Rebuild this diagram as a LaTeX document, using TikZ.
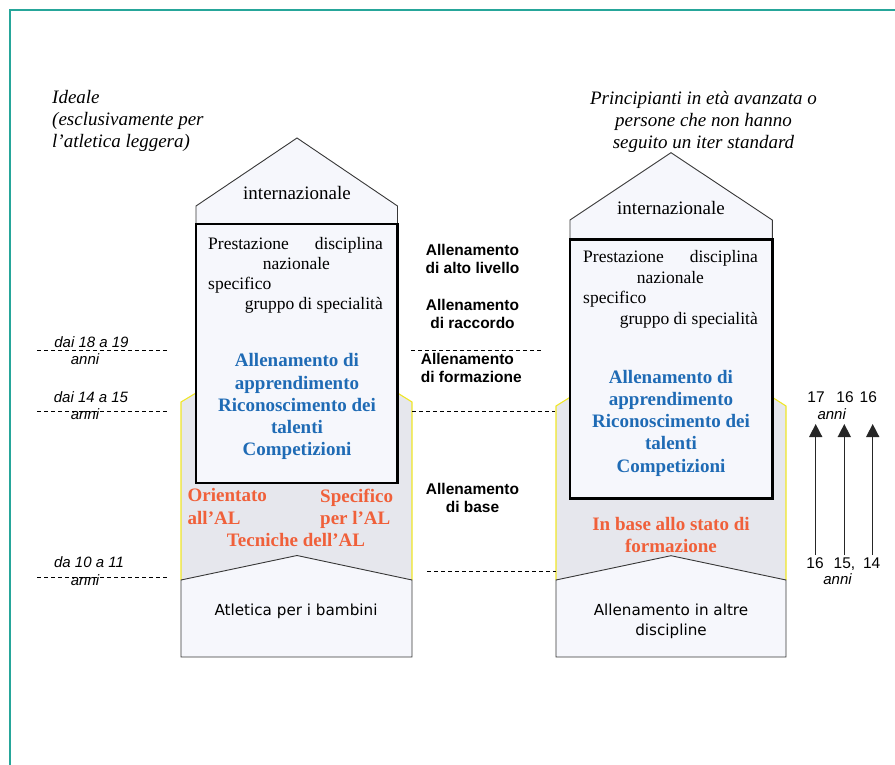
\documentclass[tikz,border=0pt]{standalone}
\usepackage{fontspec}
\setmainfont{Liberation Serif}
\setsansfont{Liberation Sans}
\newfontfamily\plainsans{DejaVu Sans}
\usetikzlibrary{arrows.meta}

\definecolor{frameteal}{RGB}{38,166,154}
\definecolor{stagefill}{RGB}{246,247,252}
\definecolor{basegray}{RGB}{230,231,237}
\definecolor{edgeyellow}{RGB}{240,230,40}
\definecolor{edgegray}{RGB}{55,55,55}
\definecolor{stageblue}{RGB}{31,107,181}
\definecolor{stageorange}{RGB}{240,96,58}

\begin{document}
\begin{tikzpicture}[
  roofline/.style={draw=edgegray, line width=\stageEdgeWidth, fill=stagefill},
  stagebox/.style={draw=black, line width=\stageBoxWidth, fill=stagefill},
  agedash/.style={dash pattern=on 4pt off 3pt, line width=0.8pt},
  titlenote/.style={inner sep=0pt, font=\itshape\fontsize{19}{22}\selectfont},
  roofnote/.style={inner sep=0pt, font=\fontsize{19}{22}\selectfont},
  levelnote/.style={inner sep=0pt, font=\fontsize{17.5}{21}\selectfont},
  bluenote/.style={inner sep=0pt, align=center, text=stageblue, font=\bfseries\fontsize{19}{22.2}\selectfont},
  orangenote/.style={inner sep=0pt, text=stageorange, font=\bfseries\fontsize{19}{22.5}\selectfont},
  phasenote/.style={inner sep=0pt, font=\sffamily\bfseries\fontsize{15.5}{18}\selectfont},
  agenote/.style={inner sep=0pt, font=\sffamily\itshape\fontsize{15}{17}\selectfont},
  yearnote/.style={inner sep=0pt, font=\sffamily\fontsize{15.5}{17}\selectfont},
  basenote/.style={inner sep=0pt, align=center, font=\plainsans\fontsize{15.2}{20}\selectfont},
  yeararrow/.style={draw=black!85, line width=1.5pt, -{Triangle[width=13pt,length=13pt]}}
]
% Stage model, coordinates in px (y downwards)
\def\px{1pt}
\providecommand{\stageEdgeWidth}{0.9pt}
\providecommand{\stageBoxWidth}{2.4pt}
\providecommand{\yellowEdgeWidth}{1.1pt}
\begin{scope}[x=\px, y=-\px, line join=miter]
  \useasboundingbox (0,0) rectangle (895,765);
  % Frame
  \draw[frameteal, line width=1.5pt] (10,765) -- (10,10) -- (895,10);

  % Left column: grey base area with yellow sides
  \fill[basegray] (196,393) -- (181,402) -- (181,580) -- (412,580) -- (412,402) -- (397.5,393) -- cycle;
  \draw[edgeyellow, line width=\yellowEdgeWidth] (196,393) -- (181,402) -- (181,580);
  \draw[edgeyellow, line width=\yellowEdgeWidth] (397.5,393) -- (412,402) -- (412,580);
  % Left column: roof, stage box, bottom block
  \path[roofline] (196,226) -- (196,206) -- (297,138) -- (397.5,206) -- (397.5,226);
  \draw[stagebox] (196,224) rectangle (397.5,483);
  \path[roofline] (181,657) -- (181,580) -- (297,555.5) -- (412,580) -- (412,657) -- cycle;

  % Right column: grey base area with yellow sides
  \fill[basegray] (570,397.3) -- (556,406) -- (556,580) -- (786,580) -- (786,406) -- (772.3,397.3) -- cycle;
  \draw[edgeyellow, line width=\yellowEdgeWidth] (570,397.3) -- (556,406) -- (556,580);
  \draw[edgeyellow, line width=\yellowEdgeWidth] (772.3,397.3) -- (786,406) -- (786,580);
  % Right column: roof, stage box, bottom block
  \path[roofline] (570,241) -- (570,220) -- (671,152.7) -- (772.3,220) -- (772.3,241);
  \draw[stagebox] (570,239.3) rectangle (772.3,498.3);
  \path[roofline] (556,657) -- (556,580) -- (671,555.7) -- (786,580) -- (786,657) -- cycle;

  % Age limits
  \draw[agedash] (37,350.7) -- (167,350.7);
  \draw[agedash] (37,411.7) -- (167,411.7);
  \draw[agedash] (37,577.7) -- (167,577.7);
  % Phase limits
  \draw[agedash] (411,350) -- (541.7,350);
  \draw[agedash] (412,411.7) -- (555,411.7);
  \draw[agedash] (427,571) -- (556,571);

  % Titles
  \node[titlenote, anchor=north west, align=left] (idealTitle) at (52,90.5)
    {Ideale\\(esclusivamente per\\l’atletica leggera)};
  \node[titlenote, anchor=north, align=center] (lateTitle) at (703.5,91.5)
    {Principianti in età avanzata o\\persone che non hanno\\seguito un iter standard};

  % Left column texts
  \node[roofnote, anchor=base] (leftIntl) at (297,199.8) {internazionale};
  \node[levelnote, anchor=base west] (leftPrest) at (208,249) {Prestazione};
  \node[levelnote, anchor=base east] (leftDisc) at (383,249) {disciplina};
  \node[levelnote, anchor=base west] (leftNaz) at (262.7,269.5) {nazionale};
  \node[levelnote, anchor=base west] (leftSpec) at (208,289.5) {specifico};
  \node[levelnote, anchor=base east] (leftGroup) at (383,309.5) {gruppo di specialità};
  \node[bluenote, anchor=north] (leftLearn) at (297,353.5)
    {Allenamento di\\apprendimento\\Riconoscimento dei\\talenti\\Competizioni};
  \node[orangenote, anchor=north west, align=left] (leftOrient) at (187.5,488.5) {Orientato\\all’AL};
  \node[orangenote, anchor=north west, align=left] (leftSpecAL) at (320,488.5) {Specifico\\per l’AL};
  \node[orangenote, anchor=base] (leftTech) at (296,546.5) {Tecniche dell’AL};
  \node[basenote, anchor=base] (leftKids) at (296,615.5) {Atletica per i bambini};

  % Right column texts
  \node[roofnote, anchor=base] (rightIntl) at (671,214.8) {internazionale};
  \node[levelnote, anchor=base west] (rightPrest) at (583,262.7) {Prestazione};
  \node[levelnote, anchor=base east] (rightDisc) at (758,262.7) {disciplina};
  \node[levelnote, anchor=base west] (rightNaz) at (636.7,283) {nazionale};
  \node[levelnote, anchor=base west] (rightSpec) at (583,303.7) {specifico};
  \node[levelnote, anchor=base east] (rightGroup) at (758,324) {gruppo di specialità};
  \node[bluenote, anchor=north] (rightLearn) at (671,370)
    {Allenamento di\\apprendimento\\Riconoscimento dei\\talenti\\Competizioni};
  \node[orangenote, anchor=north, align=center] (rightState) at (671,517)
    {In base allo stato di\\formazione};
  \node[basenote, anchor=north] (rightOther) at (671,604) {Allenamento in altre\\discipline};

  % Phase names
  \node[phasenote, anchor=north, align=center] (phaseHigh) at (472.5,243.7) {Allenamento\\di alto livello};
  \node[phasenote, anchor=north, align=center] (phaseLink) at (472.5,298.7) {Allenamento\\di raccordo};
  \node[phasenote, anchor=north west, align=left] (phaseForm) at (420.7,353) {Allenamento\\di formazione};
  \node[phasenote, anchor=north, align=center] (phaseBase) at (472.5,482.7) {Allenamento\\di base};

  % Age labels
  \node[agenote, anchor=base] (age18) at (91.5,347) {dai 18 a 19};
  \node[agenote, anchor=base] (age18y) at (85,364) {anni};
  \node[agenote, anchor=base] (age14) at (91,402) {dai 14 a 15};
  \node[agenote, anchor=base] (age14y) at (85,419) {anni};
  \node[agenote, anchor=base] (age10) at (89,567) {da 10 a 11};
  \node[agenote, anchor=base] (age10y) at (85,585.5) {anni};

  % Late starters: years
  \node[yearnote, anchor=base] (topA) at (816,402) {17};
  \node[yearnote, anchor=base] (topB) at (845,402) {16};
  \node[yearnote, anchor=base] (topC) at (868.3,402) {16};
  \node[agenote, anchor=base] (topY) at (831.7,419) {anni};
  \node[yearnote, anchor=base] (botA) at (815,568) {16};
  \node[yearnote, anchor=base] (botB) at (844.5,568) {15,};
  \node[yearnote, anchor=base] (botC) at (871.7,568) {14};
  \node[agenote, anchor=base] (botY) at (837.5,584) {anni};
  \coordinate (arrowAs) at (815.7,555);
  \coordinate (arrowAe) at (815.7,424);
  \coordinate (arrowBs) at (844.3,555);
  \coordinate (arrowBe) at (844.3,424);
  \coordinate (arrowCs) at (872.7,555);
  \coordinate (arrowCe) at (872.7,424);
  \draw[yeararrow] (arrowAs) -- (arrowAe);
  \draw[yeararrow] (arrowBs) -- (arrowBe);
  \draw[yeararrow] (arrowCs) -- (arrowCe);
\end{scope}
\end{tikzpicture}
\end{document}
